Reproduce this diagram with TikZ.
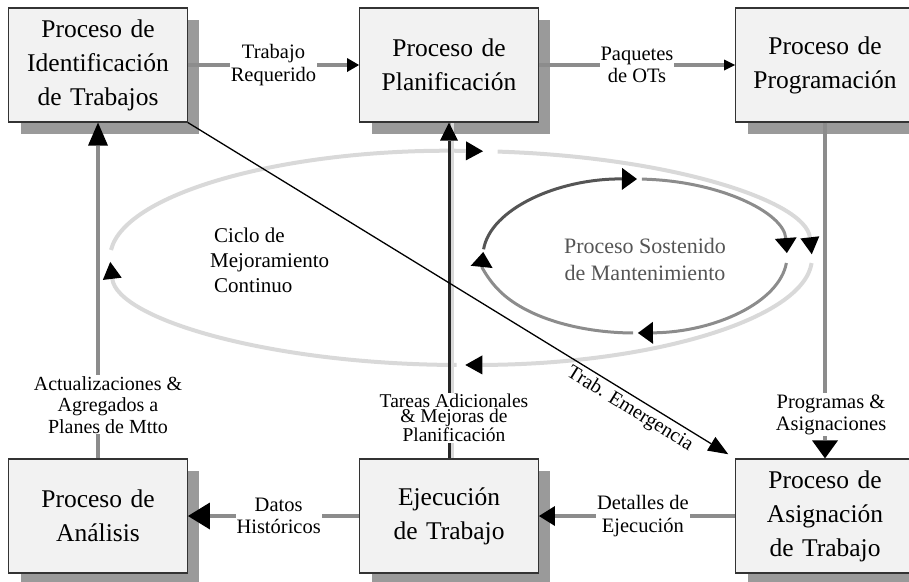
\documentclass[tikz,border=0pt]{standalone}
\usepackage{fontspec}
\setmainfont{Liberation Serif}
\usetikzlibrary{arrows.meta,shadows}

\definecolor{fondocaja}{HTML}{F2F2F2}
\definecolor{sombra}{HTML}{9A9A9A}
\definecolor{gris}{HTML}{8C8C8C}
\definecolor{grisclaro}{HTML}{D9D9D9}
\definecolor{oscuro}{HTML}{555555}

\tikzstyle{caja} = [rectangle, minimum width=176pt, minimum height=114pt, text width=172pt, align=center, fill=fondocaja, draw=black!80, line width=1.2pt, font=\fontsize{25.5}{34}\selectfont, general shadow={fill=sombra, shadow xshift=12pt, shadow yshift=-12pt}]
\tikzstyle{flujo} = [draw=gris, line width=4.5pt]
\tikzstyle{etiq} = [fill=white, inner sep=1pt, align=center, font=\fontsize{20.5}{22.5}\selectfont]
\tikzset{flecha/.style 2 args={-{Triangle[length=#1, width=#2, color=black, line width=0pt]}}}

\begin{document}
\begin{tikzpicture}[x=1pt,y=-1pt,node distance=351pt]
\useasboundingbox (0,0) rectangle (909,581);
\tikzstyle{cic} = [draw=grisclaro, line width=4pt, flecha={17pt}{19pt}]
\tikzstyle{msm} = [line width=3pt, flecha={15pt}{22pt}]

% ciclos
\coordinate (cmc) at (461,258);
\coordinate (psm) at (635,256);
\foreach \a/\b in {184.3/273.6, 276/358, 362.7/449.3, 450.7/537.9}
  \draw[cic] ([shift={(\a:351 and 107)}]cmc) arc[start angle=\a, end angle=\b, x radius=351, y radius=107];
\foreach \a/\b/\c in {185/270.75/oscuro, 272.6/357.8/gris, 365.2/448.9/gris, 450.75/543/gris}
  \draw[msm, draw=\c] ([shift={(\a:152 and 77)}]psm) arc[start angle=\a, end angle=\b, x radius=152, y radius=77];

\node[font=\fontsize{21}{25}\selectfont, align=left, anchor=west, inner sep=0pt] (ciclo) at (210,260) {\hspace{4pt}Ciclo de\\Mejoramiento\\\hspace{4pt}Continuo};
\node[font=\fontsize{22}{27}\selectfont, align=center, text=oscuro] (sostenido) at (645,259) {Proceso Sostenido\\de Mantenimiento};

% procesos
\node[caja] (ident) at (98,65) {Proceso de\\Identificación\\de Trabajos};
\node[caja] (planif) [right of=ident] {Proceso de\\Planificación};
\node[caja] (prog) [right of=planif, xshift=25pt] {Proceso de\\Programación};
\node[caja] (anal) [below of=ident, yshift=-100pt] {Proceso de\\Análisis};
\node[caja] (ejec) [below of=planif, yshift=-100pt] {Ejecución\\de Trabajo};
\node[caja] (asig) [below of=prog, yshift=-100pt] {Proceso de\\Asignación\\de Trabajo};

% flujos
\draw[flujo, flecha={12pt}{14pt}] (ident) -- node[etiq] {Trabajo\\Requerido} (planif);
\draw[flujo, flecha={11pt}{11pt}] (planif) -- node[etiq] {Paquetes\\de OTs} (prog);
\draw[flujo, flecha={18pt}{26pt}] (prog) -- node[etiq, pos=0.87, xshift=6pt] {Programas \&\\Asignaciones} (asig);
\draw[flujo, flecha={16pt}{20pt}] (asig) -- node[etiq, pos=0.47] {Detalles de\\Ejecución} (ejec);
\draw[flujo, flecha={22pt}{27pt}] (ejec) -- node[etiq, pos=0.47] {Datos\\Históricos} (anal);
\draw[flujo, flecha={23pt}{20pt}] (anal) -- node[etiq, pos=0.16, xshift=10pt, font=\fontsize{20}{21.5}\selectfont] {Actualizaciones \&\\Agregados a\\Planes de Mtto} (ident);
\draw[draw=grisclaro, line width=3pt] ([xshift=3pt]ejec.north) -- ([xshift=3pt]planif.south);
\draw[draw=black!85, line width=3pt, flecha={18pt}{18pt}] (ejec) -- node[etiq, pos=0.12, xshift=5pt, font=\fontsize{19.5}{12.5}\selectfont] {Tareas Adicionales\\\& Mejoras de\\Planificación} (planif);
\draw[line width=1.3pt, flecha={20pt}{16pt}, shorten >=8pt] (ident.south east) -- node[sloped, below, pos=0.82, font=\fontsize{20}{22}\selectfont] {Trab. Emergencia} (asig.north west);

\end{tikzpicture}
\end{document}
